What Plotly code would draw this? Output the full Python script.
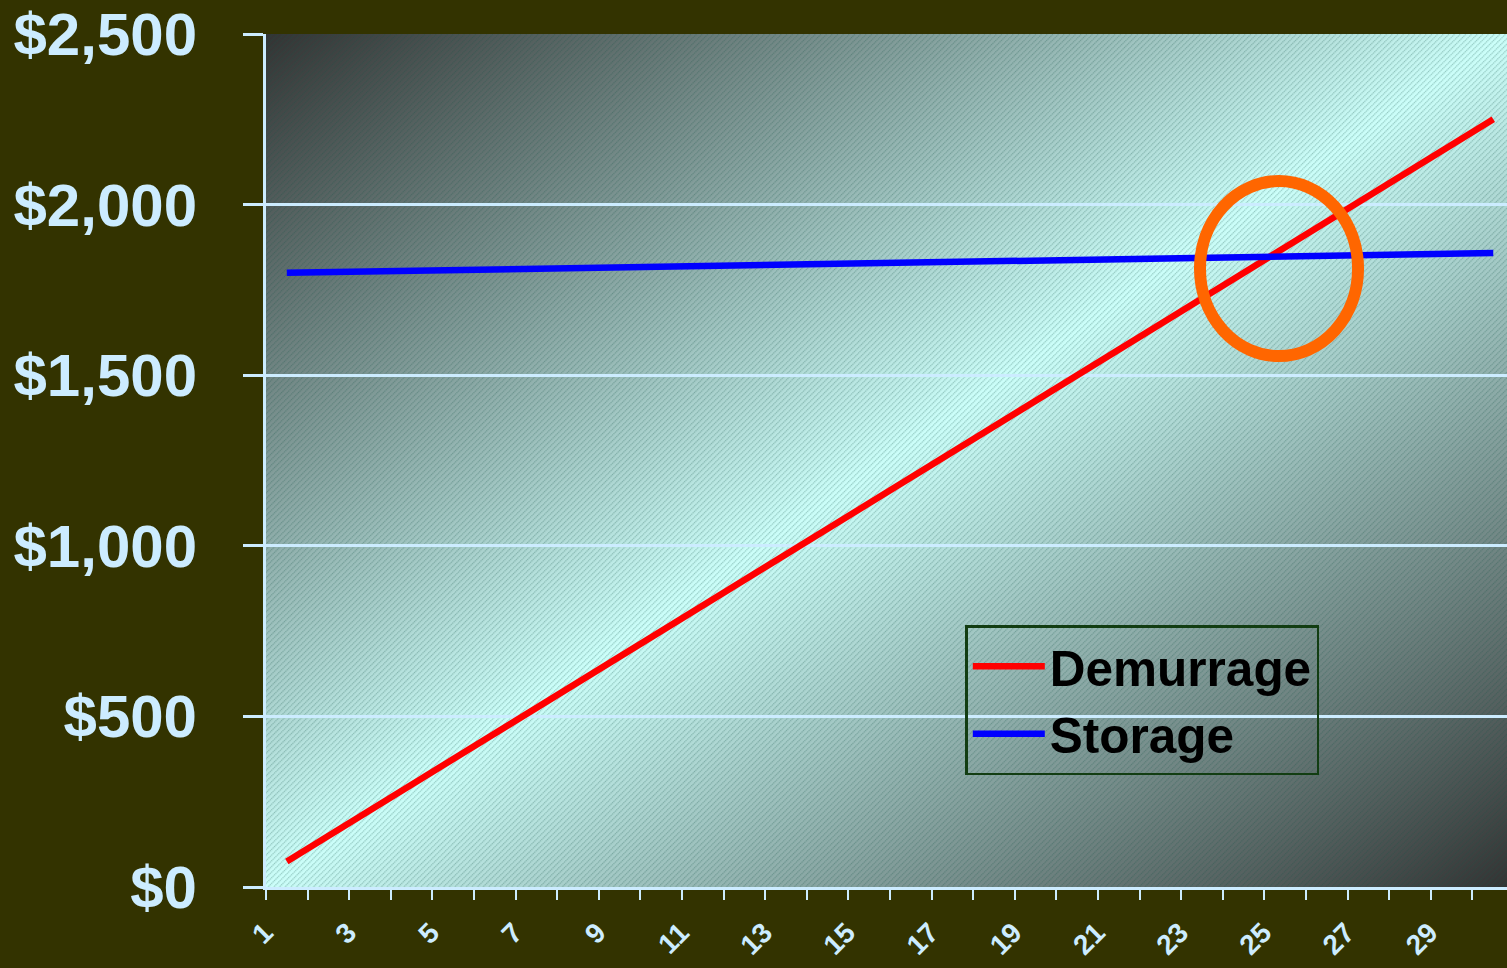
import base64
import plotly.graph_objects as go

# ---- data ----
days = list(range(1, 31))
demurrage = [75, 150, 225, 300, 375, 450, 525, 600, 675, 750,
             825, 900, 975, 1050, 1125, 1200, 1275, 1350, 1425, 1500,
             1575, 1650, 1725, 1800, 1875, 1950, 2025, 2100, 2175, 2250]
storage = [1800, 1802, 1804, 1806, 1808, 1810, 1812, 1814, 1816, 1818,
           1820, 1822, 1824, 1826, 1828, 1830, 1832, 1834, 1836, 1838,
           1840, 1842, 1844, 1846, 1848, 1850, 1852, 1854, 1856, 1858]
x_tick_vals = [1, 3, 5, 7, 9, 11, 13, 15, 17, 19, 21, 23, 25, 27, 29]
x_tick_text = [str(v) for v in x_tick_vals]
y_tick_vals = [0, 500, 1000, 1500, 2000, 2500]
y_tick_text = ["$0", "$500", "$1,000", "$1,500", "$2,000", "$2,500"]

# highlight ellipse (data coordinates)
ellipse_x = (22.95, 26.75)
ellipse_y = (1556, 2069)

# ---- style ----
BG = "#333300"
LIGHT = "#CCECFF"
FONT = "Liberation Sans, Arial, sans-serif"
W, H = 1507, 968
ML, MR, MT, MB = 266, 0, 34, 81
PW, PH = W - ML - MR, H - MT - MB
X_RANGE = [0.5, 30.33]   # plot area in the original runs past the right edge

svg = f'''<svg xmlns="http://www.w3.org/2000/svg" width="{PW}" height="{PH}" viewBox="0 0 {PW} {PH}" preserveAspectRatio="none">
<defs>
<linearGradient id="g" x1="0" y1="0" x2="1" y2="1">
<stop offset="0" stop-color="#333333"/>
<stop offset="0.5" stop-color="#CCFFFA"/>
<stop offset="1" stop-color="#333333"/>
</linearGradient>
<pattern id="h" width="4" height="4" patternUnits="userSpaceOnUse" patternTransform="rotate(45)">
<line x1="0.7" y1="0" x2="0.7" y2="4" stroke="rgba(20,80,70,0.36)" stroke-width="1" stroke-dasharray="1.4 0.6"/>
</pattern>
</defs>
<rect x="0" y="0" width="{PW}" height="{PH}" fill="url(#g)"/>
<rect x="0" y="0" width="{PW}" height="{PH}" fill="url(#h)"/>
</svg>'''
img_src = "data:image/svg+xml;base64," + base64.b64encode(svg.encode()).decode()

fig = go.Figure()
fig.add_trace(go.Scatter(x=days, y=demurrage, mode="lines", name="Demurrage",
                         legendgroup="d",
                         line=dict(color="#FF0000", width=6.5)))
fig.add_trace(go.Scatter(x=days, y=storage, mode="lines", name="Storage",
                         legendgroup="s",
                         line=dict(color="#0000FF", width=6.5)))

fig.add_shape(type="circle", xref="x", yref="y",
              x0=ellipse_x[0], x1=ellipse_x[1], y0=ellipse_y[0], y1=ellipse_y[1],
              line=dict(color="#FF6600", width=12), layer="above")

fig.add_layout_image(dict(source=img_src, xref="paper", yref="paper", x=0, y=1,
                          sizex=1, sizey=1, sizing="stretch", xanchor="left",
                          yanchor="top", layer="below"))

fig.update_layout(
    width=W, height=H,
    margin=dict(l=ML, r=MR, t=MT, b=MB, pad=0, autoexpand=False),
    paper_bgcolor=BG, plot_bgcolor="rgba(0,0,0,0)",
    showlegend=True,
    legend=dict(x=0.5635, y=0.307, xanchor="left", yanchor="top",
                bgcolor="rgba(0,0,0,0)", bordercolor="#123D12", borderwidth=2.5,
                font=dict(family=FONT, size=49.5, color="#000000", weight="bold"),
                itemwidth=72, traceorder="grouped", tracegroupgap=0),
    xaxis=dict(range=X_RANGE, tickmode="array", tickvals=x_tick_vals,
               ticktext=x_tick_text, tickangle=-45, ticks="", automargin=False,
               tickfont=dict(family=FONT, size=28, color=LIGHT, weight="bold"),
               showgrid=False, zeroline=False, showline=True, linecolor=LIGHT,
               linewidth=3, ticklabelstandoff=15, ticklabelshift=-22,
               minor=dict(tickmode="array", tickvals=[d - 0.5 for d in days] + [30.5],
                          ticks="outside", ticklen=10, tickwidth=2, tickcolor=LIGHT,
                          showgrid=False)),
    yaxis=dict(range=[0, 2500], tickmode="array", tickvals=y_tick_vals,
               ticktext=y_tick_text, automargin=False,
               tickfont=dict(family=FONT, size=60, color=LIGHT, weight="bold"),
               showgrid=True, gridcolor=LIGHT, gridwidth=2.5, zeroline=False,
               showline=True, linecolor=LIGHT, linewidth=3,
               ticks="outside", ticklen=20, tickwidth=3, tickcolor=LIGHT,
               ticklabelstandoff=34),
)

fig.write_html("out.html", config={"displayModeBar": False},
               post_script="document.body.style.margin='0';document.body.style.background='#333300';")
